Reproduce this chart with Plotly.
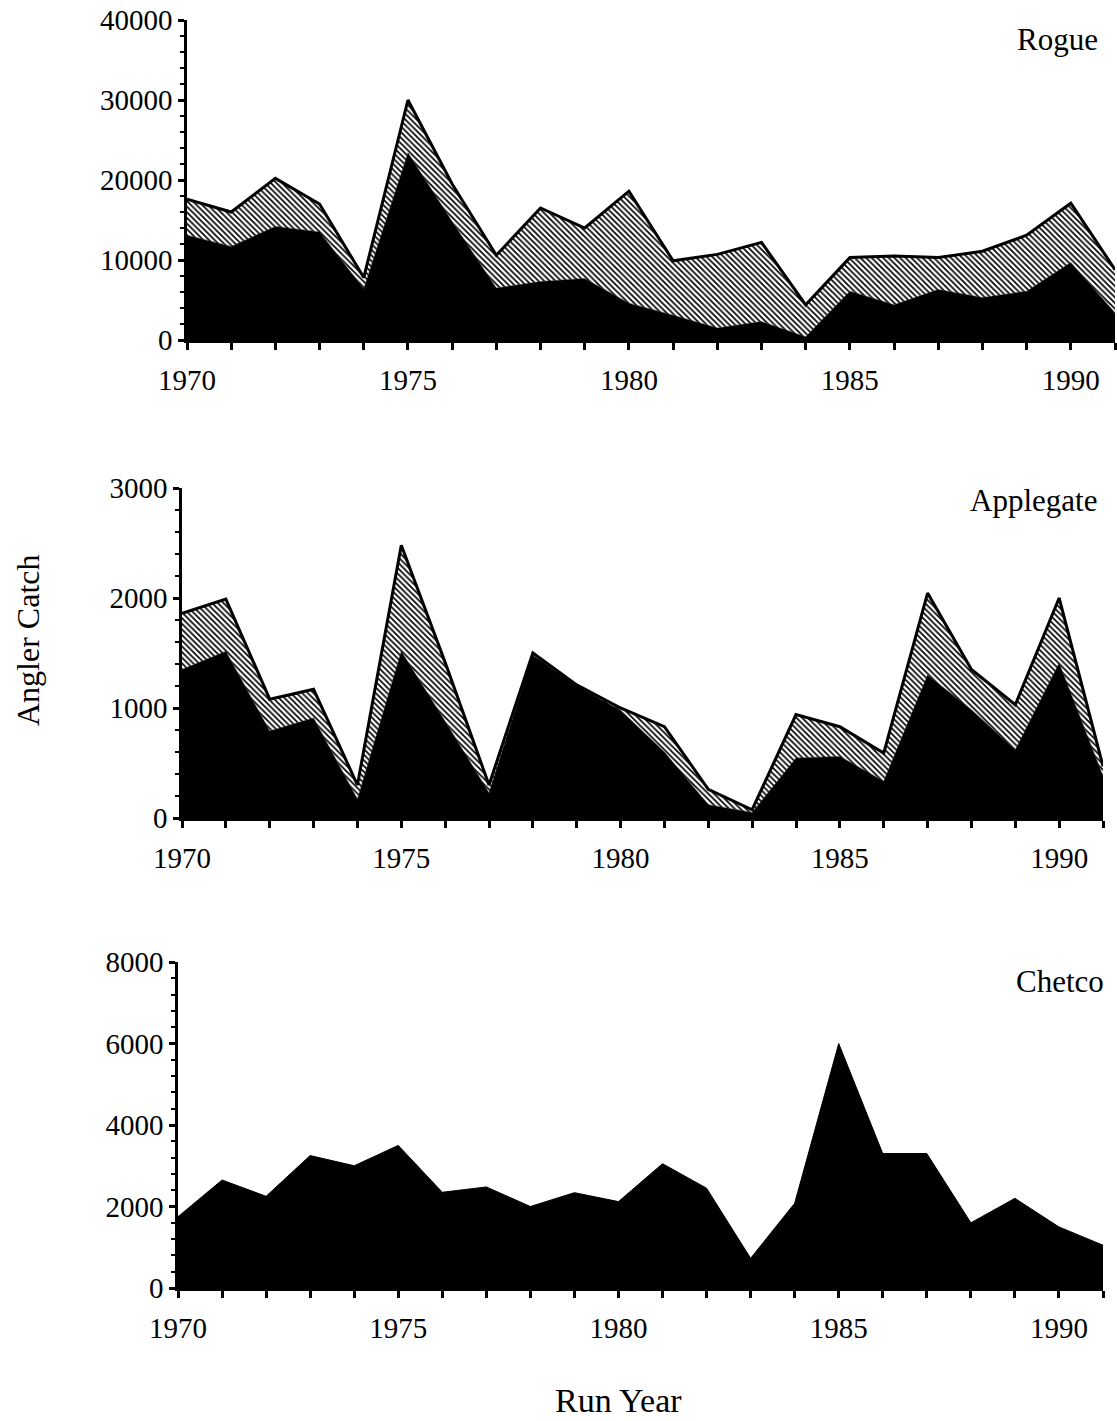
import plotly.graph_objects as go

# ---------------- data ----------------
years = list(range(1970, 1992))

rogue_wild = [13100, 11700, 14200, 13500, 6400, 23400, 14800, 6500, 7300, 7700, 4600,
              3100, 1500, 2300, 400, 6100, 4400, 6300, 5300, 6100, 9700, 3400]
rogue_hatchery = [4500, 4300, 6000, 3500, 1400, 6600, 4700, 4100, 9200, 6300, 14000,
                  6800, 9200, 9900, 4000, 4200, 6100, 4000, 5800, 7000, 7400, 5400]

applegate_wild = [1350, 1515, 790, 910, 170, 1515, 880, 230, 1480, 1200, 980,
                  600, 120, 50, 545, 560, 335, 1300, 985, 620, 1410, 380]
applegate_hatchery = [510, 475, 290, 260, 130, 965, 535, 70, 20, 10, 20,
                      230, 140, 25, 395, 270, 255, 745, 365, 410, 590, 90]

chetco_wild = [1750, 2650, 2250, 3250, 3000, 3500, 2350, 2480, 2000, 2340, 2120,
               3050, 2450, 730, 2080, 6000, 3300, 3300, 1600, 2200, 1500, 1050]

x_tickvals = [1970, 1975, 1980, 1985, 1990]
x_ticktext = ["1970", "1975", "1980", "1985", "1990"]

panel_names = ["Rogue", "Applegate", "Chetco"]
y_tickvals = {
    "Rogue": [0, 10000, 20000, 30000, 40000],
    "Applegate": [0, 1000, 2000, 3000],
    "Chetco": [0, 2000, 4000, 6000, 8000],
}
y_minor = {"Rogue": 2000, "Applegate": 200, "Chetco": 400}

# ---------------- layout geometry (page pixels) ----------------
W, H = 1117, 1421
FONT = "Liberation Serif, Times New Roman, Times, serif"


def px_x(p):
    return p / W


def px_y(p):
    return 1 - p / H


panels = {
    "Rogue": dict(x0=187, x1=1115, ytop=20, ybot=340),
    "Applegate": dict(x0=182, x1=1103, ytop=488, ybot=818),
    "Chetco": dict(x0=178, x1=1103, ytop=962, ybot=1288),
}

fig = go.Figure()

series = {
    "Rogue": (rogue_wild, rogue_hatchery),
    "Applegate": (applegate_wild, applegate_hatchery),
    "Chetco": (chetco_wild, None),
}

for i, name in enumerate(panel_names, start=1):
    xa = "x" if i == 1 else f"x{i}"
    ya = "y" if i == 1 else f"y{i}"
    wild, hatch = series[name]
    fig.add_trace(go.Scatter(
        x=years, y=wild, xaxis=xa, yaxis=ya, mode="lines",
        stackgroup=f"s{i}", fillcolor="black",
        line=dict(color="black", width=1 if hatch is None else 0.5),
        showlegend=False, hoverinfo="skip",
    ))
    if hatch is not None:
        fig.add_trace(go.Scatter(
            x=years, y=hatch, xaxis=xa, yaxis=ya, mode="lines",
            stackgroup=f"s{i}", fillcolor="white",
            fillpattern=dict(shape="\\", fgcolor="black", bgcolor="white",
                             size=4, solidity=0.42),
            line=dict(color="black", width=3),
            showlegend=False, hoverinfo="skip",
        ))

axis_common = dict(
    showgrid=False, zeroline=False, showline=True, linecolor="black",
    linewidth=2.5, ticks="outside", tickcolor="black", tickwidth=2.5,
    tickfont=dict(family=FONT, size=29, color="black"), automargin=False,
    ticklabeloverflow="allow",
)

layout_axes = {}
for i, name in enumerate(panel_names, start=1):
    g = panels[name]
    xkey = "xaxis" if i == 1 else f"xaxis{i}"
    ykey = "yaxis" if i == 1 else f"yaxis{i}"
    ya = "y" if i == 1 else f"y{i}"
    xa = "x" if i == 1 else f"x{i}"
    layout_axes[xkey] = dict(
        axis_common, domain=[px_x(g["x0"]), px_x(g["x1"])], anchor=ya,
        range=[1970, 1991], tickmode="array", tickvals=x_tickvals,
        ticktext=x_ticktext, ticklen=7, ticklabelstandoff=5,
        minor=dict(dtick=1, tick0=1970, ticks="outside", ticklen=7,
                   tickwidth=2.5, tickcolor="black", showgrid=False),
    )
    tv = y_tickvals[name]
    layout_axes[ykey] = dict(
        axis_common, domain=[px_y(g["ybot"]), px_y(g["ytop"])], anchor=xa,
        range=[0, tv[-1]], tickmode="array", tickvals=tv,
        ticktext=[str(v) for v in tv], ticklen=6,
        minor=dict(dtick=y_minor[name], tick0=0, ticks="outside", ticklen=4,
                   tickwidth=2, tickcolor="black", showgrid=False),
    )

annotations = [
    dict(text="Rogue", x=px_x(1100), y=px_y(39)),
    dict(text="Applegate", x=px_x(1099), y=px_y(500)),
    dict(text="Chetco", x=px_x(1106), y=px_y(981)),
]
annotations = [dict(a, xref="paper", yref="paper", xanchor="right", yanchor="middle",
                    showarrow=False, font=dict(family=FONT, size=31, color="black"))
               for a in annotations]
annotations.append(dict(text="Angler Catch", x=px_x(28), y=px_y(640), xref="paper",
                        yref="paper", textangle=-90, showarrow=False,
                        xanchor="center", yanchor="middle",
                        font=dict(family=FONT, size=32, color="black")))
annotations.append(dict(text="Run Year", x=px_x(618), y=px_y(1400), xref="paper",
                        yref="paper", showarrow=False, xanchor="center",
                        yanchor="middle",
                        font=dict(family=FONT, size=34, color="black")))

fig.update_layout(
    width=W, height=H, margin=dict(l=0, r=0, t=0, b=0),
    paper_bgcolor="white", plot_bgcolor="white", template="none",
    annotations=annotations, **layout_axes,
)

fig.write_html(
    "out.html",
    config={"displayModeBar": False},
    post_script="document.body.style.margin='0';document.body.style.overflow='hidden';",
)
